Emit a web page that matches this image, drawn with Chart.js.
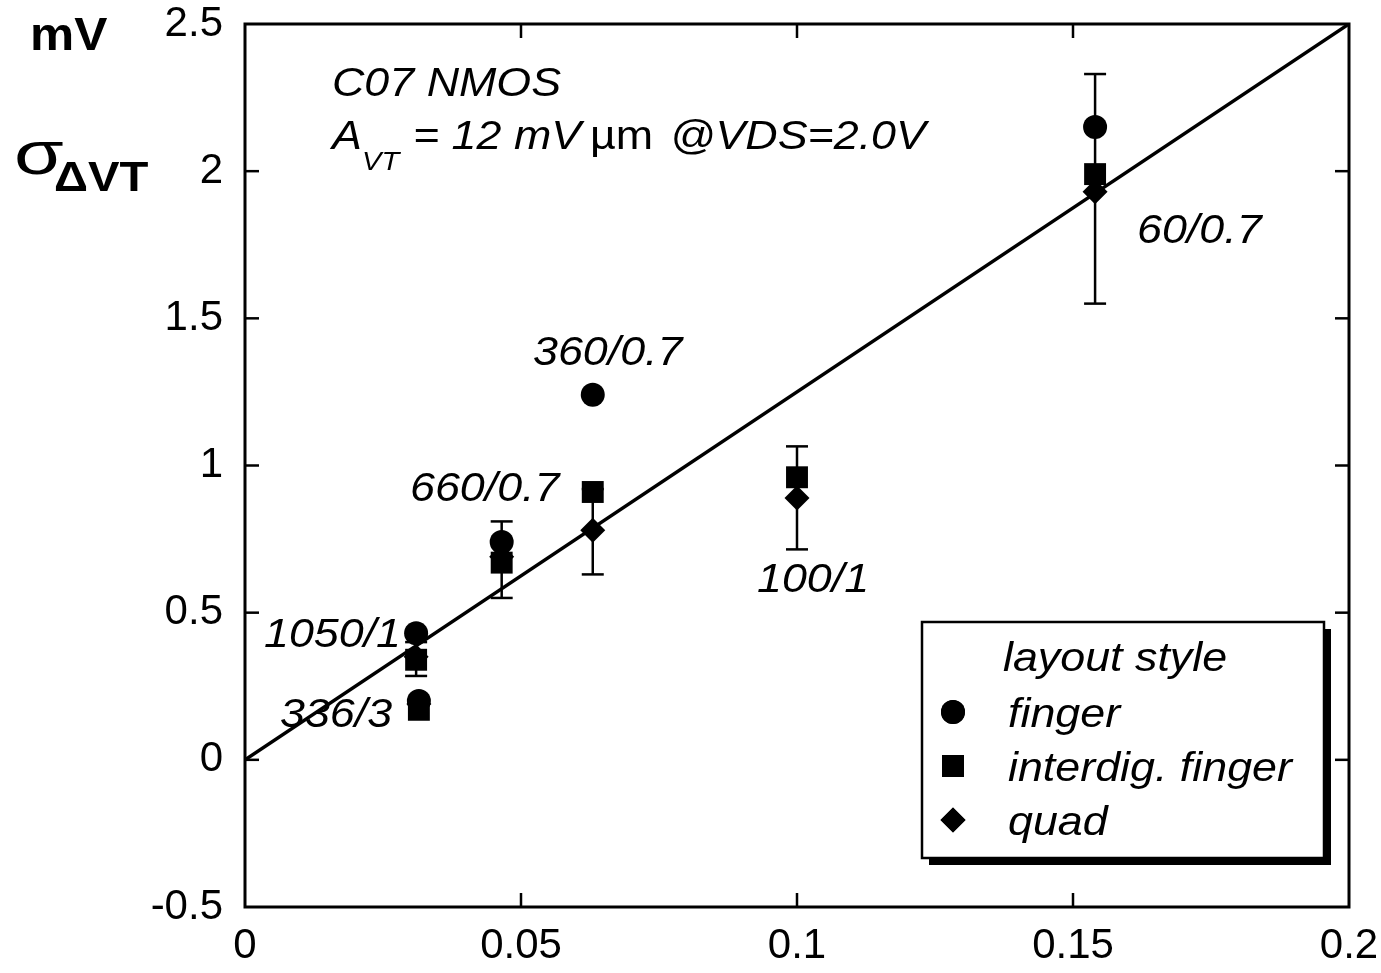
<!DOCTYPE html>
<html>
<head>
<meta charset="utf-8">
<script src="https://cdn.jsdelivr.net/npm/chart.js@4/dist/chart.umd.min.js"></script>
<style>
  html, body { margin: 0; padding: 0; background: #fff; }
  #wrap { width: 1381px; height: 973px; }
</style>
</head>
<body>
<div id="wrap"><canvas id="chart" width="1381" height="973"></canvas></div>
<script>
// device sizes W/L and their 1/sqrt(WL) position
const devices = ["1050/1", "336/3", "660/0.7", "360/0.7", "100/1", "60/0.7"];
const invSqrtArea = [0.031, 0.0315, 0.0465, 0.063, 0.1, 0.154];

// sigma(dVT) in mV per layout style
const finger = [0.43, 0.2, 0.74, 1.24, null, 2.15];
const interdig = [0.34, 0.17, 0.67, 0.91, 0.96, 1.99];
const quad = [0.35, 0.19, 0.69, 0.78, 0.89, 1.93];

// error bar ends
const errLow = [0.285, null, 0.55, 0.63, 0.715, 1.55];
const errHigh = [0.4, null, 0.81, 0.92, 1.065, 2.33];

// fit line A_VT = 12 mV um
const fitX = [0, 0.2];
const fitY = [0, 2.5];

const xTicks = [0, 0.05, 0.1, 0.15, 0.2];
const xTickLabels = ["0", "0.05", "0.1", "0.15", "0.2"];
const yTicks = [-0.5, 0, 0.5, 1, 1.5, 2, 2.5];
const yTickLabels = ["-0.5", "0", "0.5", "1", "1.5", "2", "2.5"];

const legendTitle = "layout style";
const seriesNames = ["finger", "interdig. finger", "quad"];

const FONT = '"Liberation Sans", Arial, Helvetica, sans-serif';
const STRETCH = 1.12; // the scan is a bit wider than the font

function points(ys) {
  return ys
    .map((y, i) => (y == null ? null : { x: invSqrtArea[i], y }))
    .filter((p) => p);
}

function line(ctx, x1, y1, x2, y2) {
  ctx.beginPath();
  ctx.moveTo(x1, y1);
  ctx.lineTo(x2, y2);
  ctx.stroke();
}

function text(ctx, str, x, y, font, sx = STRETCH) {
  ctx.save();
  ctx.font = font;
  ctx.translate(x, y);
  ctx.scale(sx, 1);
  ctx.fillText(str, 0, 0);
  ctx.restore();
}

function noPad(s) {
  s.paddingLeft = 0;
  s.paddingRight = 0;
  s.paddingTop = 0;
  s.paddingBottom = 0;
}

const errorBars = {
  id: "errorBars",
  afterDatasetsDraw(chart) {
    const { ctx, scales: { x, y } } = chart;
    ctx.save();
    ctx.strokeStyle = "#000";
    ctx.lineWidth = 2.5;
    invSqrtArea.forEach((v, i) => {
      if (errLow[i] == null) return;
      const px = x.getPixelForValue(v);
      const lo = y.getPixelForValue(errLow[i]);
      const hi = y.getPixelForValue(errHigh[i]);
      line(ctx, px, lo, px, hi);
      line(ctx, px - 11, lo, px + 11, lo);
      line(ctx, px - 11, hi, px + 11, hi);
    });
    ctx.restore();
  },
};

const frame = {
  id: "frame",
  afterDraw(chart) {
    const { ctx, chartArea: a, scales: { x, y } } = chart;
    ctx.save();
    ctx.strokeStyle = "#000";
    ctx.lineWidth = 3;
    ctx.strokeRect(a.left, a.top, a.right - a.left, a.bottom - a.top);
    ctx.lineWidth = 2.5;
    xTicks.slice(1, -1).forEach((v) => {
      const px = x.getPixelForValue(v);
      line(ctx, px, a.bottom, px, a.bottom - 14);
      line(ctx, px, a.top, px, a.top + 14);
    });
    yTicks.slice(1, -1).forEach((v) => {
      const py = y.getPixelForValue(v);
      line(ctx, a.left, py, a.left + 14, py);
      line(ctx, a.right, py, a.right - 14, py);
    });

    // axis titles
    ctx.fillStyle = "#000";
    ctx.textBaseline = "alphabetic";
    ctx.textAlign = "left";
    text(ctx, "mV", 30, 50, "bold 46px " + FONT, 1.08);
    text(ctx, "σ", 14, 174, "62px " + FONT, 1.3);
    text(ctx, "ΔVT", 54, 191, "bold 43px " + FONT, 1.1);

    // header text
    const it = "italic 40px " + FONT;
    text(ctx, "C07 NMOS", 332, 96, it);
    text(ctx, "A", 332, 149, it);
    text(ctx, "VT", 362, 170, "italic 26px " + FONT);
    text(ctx, "= 12 mV", 413, 149, it);
    text(ctx, "µm", 590, 149, "40px " + FONT);
    text(ctx, "@VDS=2.0V", 670, 149, it);

    // device labels
    const labelPos = [
      [264, 647], [280, 727], [410, 501], [533, 365], [757, 592], [1137, 243],
    ];
    devices.forEach((d, i) => text(ctx, d, labelPos[i][0], labelPos[i][1], it));

    // legend box with shadow
    const bx = 922, by = 622, bw = 402, bh = 236;
    ctx.fillStyle = "#000";
    ctx.fillRect(bx + 7, by + 7, bw, bh);
    ctx.fillStyle = "#fff";
    ctx.fillRect(bx, by, bw, bh);
    ctx.lineWidth = 2.5;
    ctx.strokeRect(bx, by, bw, bh);
    ctx.fillStyle = "#000";
    text(ctx, legendTitle, 1003, 671, it);
    const rows = [727, 781, 835];
    chart.data.datasets.slice(1).forEach((ds, i) => {
      Chart.helpers.drawPoint(ctx, {
        pointStyle: ds.pointStyle,
        radius: ds.pointRadius,
        rotation: 0,
        borderWidth: 0,
      }, 953, rows[i] - 15);
      ctx.fill();
      text(ctx, seriesNames[i], 1008, rows[i], it);
    });
    ctx.restore();
  },
};

new Chart(document.getElementById("chart"), {
  type: "scatter",
  data: {
    datasets: [
      {
        type: "line",
        label: "fit",
        data: fitX.map((v, i) => ({ x: v, y: fitY[i] })),
        borderColor: "#000",
        borderWidth: 3.5,
        pointRadius: 0,
        fill: false,
      },
      {
        label: seriesNames[0],
        data: points(finger),
        pointStyle: "circle",
        pointRadius: 12,
        backgroundColor: "#000",
        borderColor: "#000",
        borderWidth: 0,
      },
      {
        label: seriesNames[1],
        data: points(interdig),
        pointStyle: "rect",
        pointRadius: 15.5,
        backgroundColor: "#000",
        borderColor: "#000",
        borderWidth: 0,
      },
      {
        label: seriesNames[2],
        data: points(quad),
        pointStyle: "rectRot",
        pointRadius: 12.5,
        backgroundColor: "#000",
        borderColor: "#000",
        borderWidth: 0,
      },
    ],
  },
  options: {
    responsive: false,
    animation: false,
    layout: { padding: { left: 0, top: 24, right: 32, bottom: 0 } },
    plugins: { legend: { display: false }, tooltip: { enabled: false } },
    scales: {
      x: {
        type: "linear",
        min: 0,
        max: 0.2,
        grid: { display: false, drawTicks: false },
        border: { display: false },
        afterFit: (s) => { s.height = 66; noPad(s); },
        afterBuildTicks: (s) => { s.ticks = xTicks.map((v) => ({ value: v })); },
        ticks: {
          padding: 14,
          color: "#000",
          font: { family: FONT, size: 42 },
          callback: (v) => xTickLabels[xTicks.indexOf(v)],
        },
      },
      y: {
        type: "linear",
        min: -0.5,
        max: 2.5,
        grid: { display: false, drawTicks: false },
        border: { display: false },
        afterFit: (s) => { s.width = 245; noPad(s); },
        afterBuildTicks: (s) => { s.ticks = yTicks.map((v) => ({ value: v })); },
        ticks: {
          padding: 22,
          color: "#000",
          font: { family: FONT, size: 42 },
          callback: (v) => yTickLabels[yTicks.indexOf(v)],
        },
      },
    },
  },
  plugins: [errorBars, frame],
});
</script>
</body>
</html>
